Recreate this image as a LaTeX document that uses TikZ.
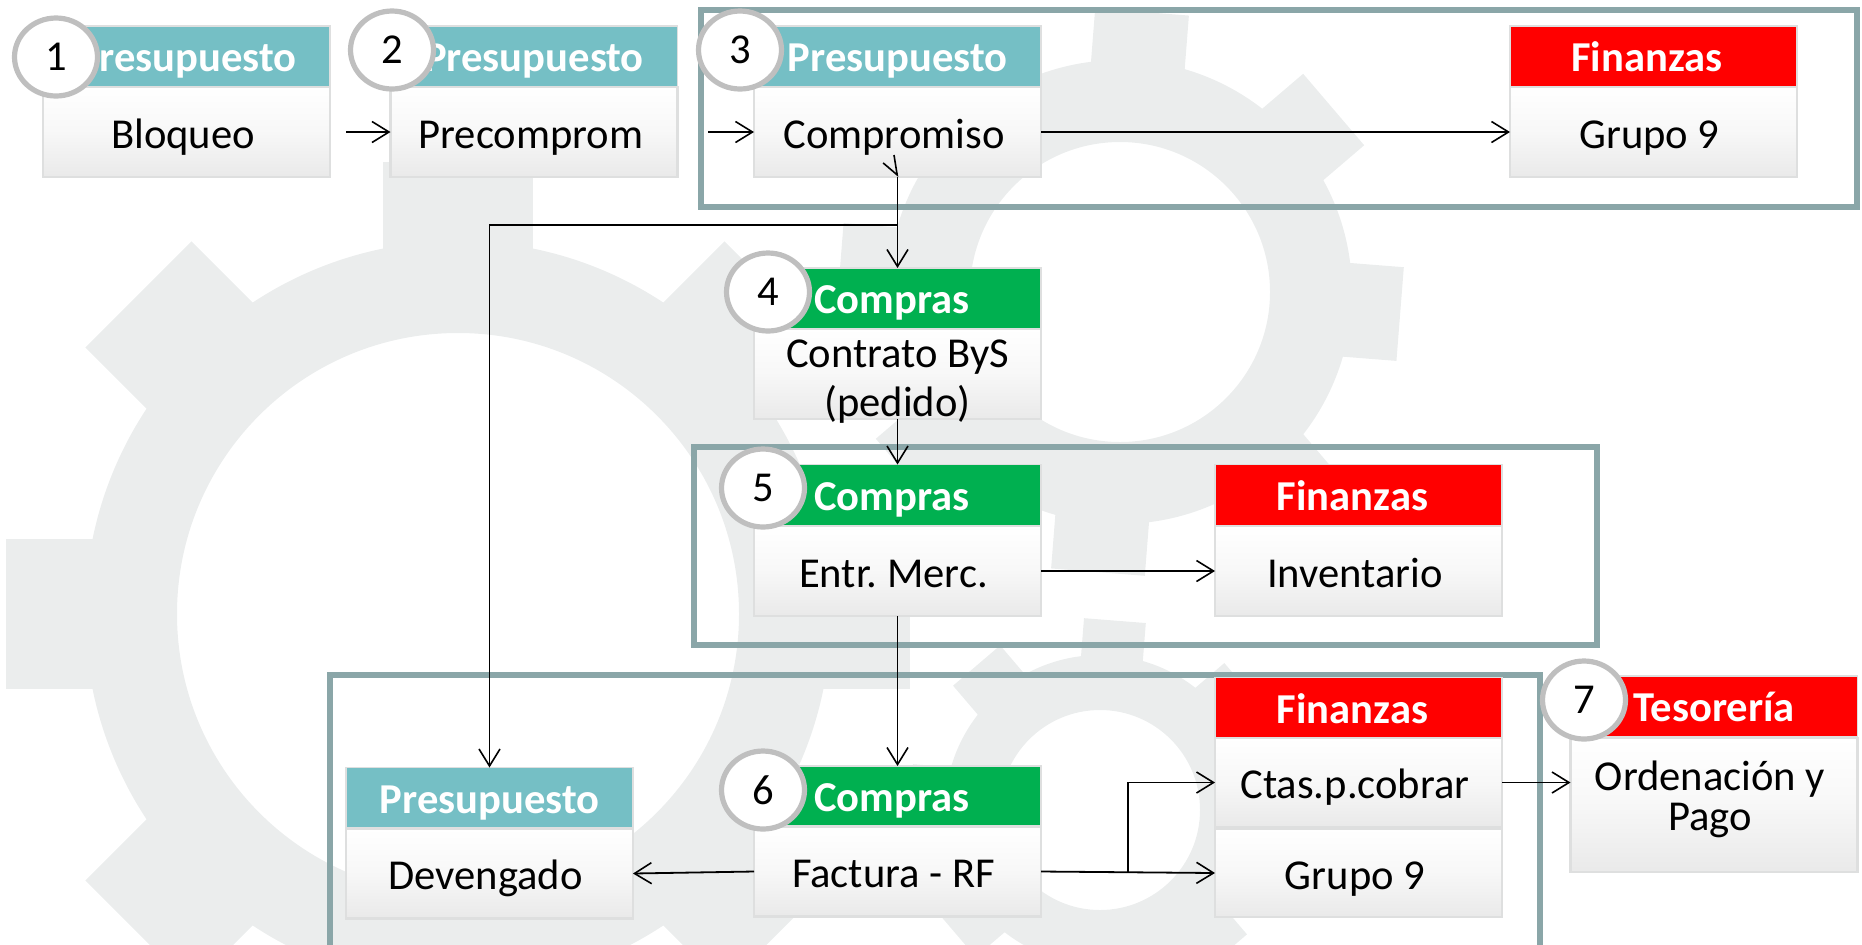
\documentclass[tikz,border=0pt]{standalone}
\usepackage{fontspec}
\setmainfont{Carlito}
\usetikzlibrary{arrows.meta,shapes.geometric,shadings}
\definecolor{gearc}{HTML}{EBEDED}
\definecolor{framec}{HTML}{8AA6A8}
\definecolor{tealc}{HTML}{75BFC5}
\definecolor{greenc}{HTML}{00B050}
\definecolor{redc}{HTML}{FF0000}
\definecolor{edgec}{HTML}{DEDFDF}
\definecolor{ringc}{HTML}{BFBFBF}
\tikzset{
  headbox/.style={rectangle,draw=edgec,line width=.9pt,inner sep=0pt,outer sep=0pt,
    minimum width=143.5pt,minimum height=30.5pt,text=white,font=\frenchspacing\fontsize{21.3}{25}\selectfont\bfseries},
  bodybox/.style={rectangle,draw=edgec,line width=1.2pt,inner sep=0pt,outer sep=0pt,
    minimum width=143.5pt,top color=white,bottom color=gray!17,middle color=white!97!black,
    text=black,font=\frenchspacing\fontsize{21.3}{25}\selectfont},
  framebox/.style={draw=framec,line width=2.8pt,line join=miter},
  arr/.style={-{Straight Barb[length=8.5pt,width=10.5pt,line width=.8pt]},line width=.9pt,black},
  halfarr/.style={-{Straight Barb[length=7pt,width=12pt,line width=.8pt,right]},line width=.8pt,black},
  numring/.style={ellipse,draw=ringc,line width=2.6pt,fill=white,inner sep=0pt,outer sep=0pt,
    minimum width=41.5pt,minimum height=39pt,font=\fontsize{21.3}{25}\selectfont},
}
% zero-size text line with baseline shift
\newcommand{\tl}[2]{\raisebox{#1}[0pt][0pt]{#2}}
\newcommand{\hd}[1]{\tl{-7.6pt}{#1}}
\newcommand{\gearshape}[7]{%
  \foreach \a in {0,45,...,315}{
    \fill[gearc,shift={(#1,#2)},rotate=#3+\a] ({#4-12},-#7) rectangle (#6,#7);
  }
  \fill[gearc,even odd rule] (#1,#2) circle [radius=#4] (#1,#2) circle [radius=#5];
}
\begin{document}
\begin{tikzpicture}[x=0.5pt,y=-0.5pt]
\useasboundingbox (0,0) rectangle (1862,944);
\clip (0,0) rectangle (1862,944);
% gears
\gearshape{458}{614}{0}{373}{281}{452}{75}
\gearshape{1120}{292}{-4.5}{232}{150}{281}{47}
\gearshape{1100}{810}{-4.5}{155}{100}{190}{31}
% frames
\draw[framebox] (701,10) rectangle (1857,207);
\draw[framebox] (694,447) rectangle (1597,645);
\draw[framebox] (330,675) rectangle (1540,970);
% row 1
\node[headbox,fill=tealc] (h1) at (186.5,56.5) {\hd{Presupuesto}};
\node[bodybox,minimum height=45pt] (blo) at (186.5,132) {\hspace*{-3.5pt}\tl{-8pt}{Bloqueo}};
\node[headbox,fill=tealc] (h2) at (534,56.5) {\hd{Presupuesto}};
\node[bodybox,minimum height=45pt] (pre) at (534,132) {\hspace*{-3pt}\tl{-8pt}{Precomprom}};
\node[headbox,fill=tealc] (h3) at (897.5,56.5) {\hd{Presupuesto}};
\node[bodybox,minimum height=45pt] (com) at (897.5,132) {\hspace*{-3.5pt}\tl{-8pt}{Compromiso}};
\node[headbox,fill=redc] (h3b) at (1653.5,56.5) {\hspace*{-6.5pt}\hd{Finanzas}};
\node[bodybox,minimum height=45pt] (gr1) at (1653.5,132) {\hspace*{-4pt}\tl{-8pt}{Grupo 9}};
% row 2
\node[headbox,fill=greenc] (h4) at (897.5,298.5) {\hspace*{-5.5pt}\hd{Compras}};
\node[bodybox,minimum height=45pt] (con) at (897.5,374) {\tl{-9pt}{\begin{tabular}{@{}c@{}}Contrato ByS\\[-.5pt](pedido)\end{tabular}}};
% row 3
\node[headbox,fill=greenc] (h5) at (897.5,495) {\hspace*{-5.5pt}\hd{Compras}};
\node[bodybox,minimum height=45pt] (ent) at (897.5,571) {\hspace*{-4pt}\tl{-8pt}{Entr. Merc.}};
\node[headbox,fill=redc] (h5b) at (1358.5,495) {\hspace*{-6pt}\hd{Finanzas}};
\node[bodybox,minimum height=45pt] (inv) at (1358.5,571) {\hspace*{-3.5pt}\tl{-8pt}{Inventario}};
% row 4
\node[headbox,fill=tealc] (h6a) at (489.5,798) {\hd{Presupuesto}};
\node[bodybox,minimum height=45pt] (dev) at (489.5,873.5) {\hspace*{-4pt}\tl{-8pt}{Devengado}};
\node[headbox,fill=greenc] (h6) at (897.5,796.5) {\hspace*{-5.5pt}\hd{Compras}};
\node[bodybox,minimum height=45pt] (fac) at (897.5,871.5) {\hspace*{-4pt}\tl{-8pt}{Factura - RF}};
\node[headbox,fill=redc] (h6b) at (1358.5,708) {\hspace*{-6pt}\hd{Finanzas}};
\node[bodybox,minimum height=44.5pt] (cta) at (1358.5,782.5) {\hspace*{-3.5pt}\tl{-8pt}{Ctas.p.cobrar}};
\node[bodybox,minimum height=44pt] (gr2) at (1358.5,873) {\hspace*{-3.5pt}\tl{-8pt}{Grupo 9}};
\node[headbox,fill=redc] (h7) at (1714,706.5) {\hd{Tesorería}};
\node[bodybox,minimum height=67pt] (ord) at (1714,805) {\hspace*{-4pt}\tl{-3pt}{\begin{tabular}{@{}c@{}}Ordenación y\\[-5pt]Pago\end{tabular}}};
% connectors
\coordinate (comtip) at (894,155);
\coordinate (branch) at (897.5,225);
\coordinate (splitf) at (1128,871.5);
\draw[arr] ([xshift=8pt]blo.east) -- (pre.west);
\draw[arr] ([xshift=-23pt]com.west) -- (com.west);
\draw[arr] (com.east) -- (gr1.west);
\draw[halfarr] (comtip) -- (com.south);
\draw[arr] (com.south) -- (h4.north);
\draw[arr] (branch) -| (h6a.north);
\draw[arr] (con.south) -- (h5.north);
\draw[arr] (ent.east) -- (inv.west);
\draw[arr] (ent.south) -- (h6.north);
\draw[arr] (fac.west) -- (dev.east);
\draw[arr] (fac.east) -- (gr2.west);
\draw[arr] (splitf) |- (cta.west);
\draw[arr] (cta.east) -- (cta.east -| ord.west);
% numbered rings
\node[numring] (n1) at (56,57) {1};
\node[numring] (n2) at (392,50) {2};
\node[numring] (n3) at (740,50) {3};
\node[numring] (n4) at (768,292) {4};
\node[numring] (n5) at (763,488) {5};
\node[numring] (n6) at (763,790) {6};
\node[numring] (n7) at (1584,700) {7};
\end{tikzpicture}
\end{document}
